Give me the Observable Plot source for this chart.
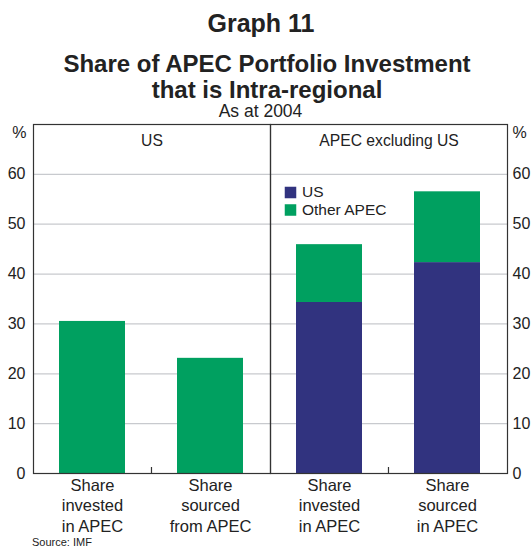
<!DOCTYPE html>
<html><head><meta charset="utf-8">
<script src="https://cdn.jsdelivr.net/npm/d3@7"></script>
<script src="https://cdn.jsdelivr.net/npm/@observablehq/plot@0.6"></script>
<style>
body{margin:0;background:#fff;font-family:"Liberation Sans",Arial,sans-serif;color:#222;}
#wrap{position:relative;width:532px;height:549px;overflow:hidden;background:#fff;}
.t{position:absolute;text-align:center;white-space:nowrap;}
</style></head><body>
<div id="wrap">
<div class="t" style="left:0;width:522px;top:10.8px;font-size:25px;line-height:25px;font-weight:bold">Graph 11</div>
<div class="t" style="left:0;width:534px;top:54.2px;font-size:24px;line-height:20px;font-weight:bold">Share of APEC Portfolio Investment</div>
<div class="t" style="left:0;width:534px;top:80.4px;font-size:24px;line-height:20px;font-weight:bold">that is Intra-regional</div>
<div class="t" style="left:0;width:521px;top:105.4px;font-size:17.5px;line-height:13px">As at 2004</div>
<div id="chart" style="position:absolute;left:0;top:118px"></div>
<div class="t" style="left:32px;top:537.2px;font-size:11px;line-height:11px;text-align:left">Source: IMF</div>
</div>
<script>
const panels = ["US", "APEC excluding US"];
const measures = ["invested", "sourced"];
const seriesNames = ["US", "Other APEC"];
const seriesColors = ["#31337f", "#00a060"];
const usPanelOtherAPEC = [30.5, 23.1];
const exUSPanelUS = [34.3, 42.3];
const exUSPanelOtherAPEC = [11.6, 14.2];
const usPanelLabels = ["Share\ninvested\nin APEC", "Share\nsourced\nfrom APEC"];
const exUSPanelLabels = ["Share\ninvested\nin APEC", "Share\nsourced\nin APEC"];
const yTicks = [0, 10, 20, 30, 40, 50, 60];
const gridTicks = [10, 20, 30, 40, 50, 60];
const yDomain = [0, 70];

const rows = [];
measures.forEach((m, i) => {
  rows.push({panel: panels[0], measure: m, series: "Other APEC", value: usPanelOtherAPEC[i]});
  rows.push({panel: panels[1], measure: m, series: "US", value: exUSPanelUS[i]});
  rows.push({panel: panels[1], measure: m, series: "Other APEC", value: exUSPanelOtherAPEC[i]});
});
const labelRows = [
  ...measures.map((m, i) => ({panel: panels[0], measure: m, label: usPanelLabels[i]})),
  ...measures.map((m, i) => ({panel: panels[1], measure: m, label: exUSPanelLabels[i]}))
];

const W = 532, H = 420, mL = 33, mR = 25, mT = 6, mB = 65;
const padIn = 0.44, padOut = 0.224;
const facetW = (W - mL - mR) / panels.length;
const step = facetW / (measures.length - padIn + 2 * padOut);

const legendMarks = seriesNames.flatMap((s, i) => [
  Plot.dot([s], {fx: () => panels[1], frameAnchor: "top-left", dx: 20, dy: 68 + i * 17.5,
    symbol: "square", r: 6.5, fill: d => d, stroke: null}),
  Plot.text([s], {fx: () => panels[1], frameAnchor: "top-left", dx: 31.5, dy: 68 + i * 17.5,
    text: d => d, textAnchor: "start", lineAnchor: "middle", fontSize: 15.5, fill: "#222"})
]);

const chart = Plot.plot({
  width: W, height: H,
  marginLeft: mL, marginRight: mR, marginTop: mT, marginBottom: mB,
  style: {fontFamily: '"Liberation Sans", Arial, sans-serif', fontSize: "16px", color: "#222", background: "white", overflow: "visible"},
  fx: {domain: panels, padding: 0, axis: null},
  x: {domain: measures, paddingInner: padIn, paddingOuter: padOut, axis: null},
  y: {domain: yDomain, axis: null},
  color: {domain: seriesNames, range: seriesColors},
  marks: [
    Plot.gridY(gridTicks, {stroke: "#c8cace", strokeOpacity: 1, strokeWidth: 1.3}),
    Plot.barY(rows, Plot.stackY({fx: "panel", x: "measure", y: "value", fill: "series", order: seriesNames})),
    Plot.frame({stroke: "#333", strokeWidth: 1.2}),
    Plot.ruleX(panels, {fx: d => d, x: () => measures[1], dx: -step / 2, y1: 0, y2: 1.2, stroke: "#333", strokeWidth: 1.2}),
    Plot.axisY(yTicks, {anchor: "left", label: null, tickSize: 0, tickPadding: 8, fontSize: 16, fill: "#222"}),
    Plot.axisY(yTicks, {anchor: "right", label: null, tickSize: 0, tickPadding: 5, fontSize: 16, fill: "#222"}),
    Plot.text(["%"], {fx: () => panels[0], frameAnchor: "top-left", text: d => d, dx: -7, dy: 8, textAnchor: "end", lineAnchor: "middle", fontSize: 16, fill: "#222"}),
    Plot.text(["%"], {fx: () => panels[1], frameAnchor: "top-right", text: d => d, dx: 5, dy: 8, textAnchor: "start", lineAnchor: "middle", fontSize: 16, fill: "#222"}),
    Plot.text(panels, {fx: d => d, text: d => d, frameAnchor: "top", dy: 16.5, lineAnchor: "middle", fontSize: 15.7, fill: "#222"}),
    Plot.text(labelRows, {fx: "panel", x: "measure", text: "label", frameAnchor: "bottom", lineAnchor: "top", dy: 3.5, lineHeight: 1.22, fontSize: 16.5, fill: "#222"}),
    ...legendMarks
  ]
});
document.getElementById("chart").appendChild(chart);
</script>
</body></html>
